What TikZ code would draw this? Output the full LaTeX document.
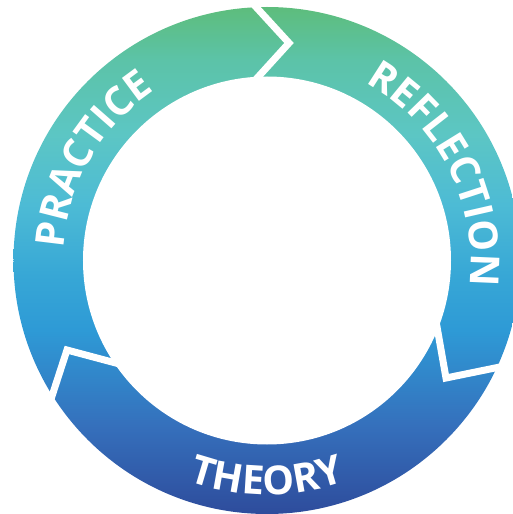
\documentclass[tikz,border=0pt]{standalone}
\usepackage{fontspec}
\usetikzlibrary{calc,decorations.text}
\newfontfamily\cyclefont{Open Sans}

\definecolor{cyc0}{HTML}{2E4C9C}
\definecolor{cyc1}{HTML}{3570BC}
\definecolor{cyc2}{HTML}{2E9AD6}
\definecolor{cyc3}{HTML}{37A7D6}
\definecolor{cyc4}{HTML}{4DBBD5}
\definecolor{cyc5}{HTML}{5CC6C4}
\definecolor{cyc6}{HTML}{5CC3A8}
\definecolor{cyc7}{HTML}{5DBD7C}

% blue at the bottom, green at the top
\pgfdeclareverticalshading{cycleshade}{100bp}{color(0bp)=(cyc0); color(25bp)=(cyc0);
  color(33.75bp)=(cyc1); color(43.15bp)=(cyc2); color(48.5bp)=(cyc3);
  color(55.5bp)=(cyc4); color(62.4bp)=(cyc5); color(69.75bp)=(cyc6);
  color(75bp)=(cyc7); color(100bp)=(cyc7)}

\newcommand{\labelfont}{\color{white}\cyclefont\bfseries\fontsize{40}{40}\selectfont}

\tikzset{
  gap/.style={draw=white, line width=7pt, line join=miter},
  ringlabel/.style={decorate, decoration={text along path, text align=center, text={|\labelfont|#1}}}
}

\begin{document}
\begin{tikzpicture}[x=1pt, y=1pt]
    \useasboundingbox (-267,-253.5) rectangle (246,260.5);
    % the ring
    \shade[shading=cycleshade] (0,0) circle[radius=253.5];
    \fill[white] (0,0) circle[radius=184];
    % arrow gaps between the three parts
    \coordinate (topin) at (-8,184.5);
    \coordinate (toptip) at (22,217.5);
    \coordinate (topout) at (-11,253.5);
    \coordinate (rightin) at (171,-72);
    \coordinate (righttip) at (179,-117.5);
    \coordinate (rightout) at (228,-107.5);
    \coordinate (leftin) at (-155,-101.5);
    \coordinate (lefttip) at (-200,-89.5);
    \coordinate (leftout) at (-214,-132.5);
    \draw[gap] ($(toptip)!1.3!(topin)$) -- (toptip) -- ($(toptip)!1.2!(topout)$);
    \draw[gap] ($(righttip)!1.3!(rightin)$) -- (righttip) -- ($(righttip)!1.2!(rightout)$);
    \draw[gap] ($(lefttip)!1.3!(leftin)$) -- (lefttip) -- ($(lefttip)!1.2!(leftout)$);
    % labels
    \path[ringlabel=PRACTICE] (190:203.5) arc[start angle=190, end angle=110, radius=203.5];
    \path[ringlabel=REFLECTION] (76:203.5) arc[start angle=76, end angle=-22, radius=203.5];
    \path[ringlabel=THEORY] (230:234.5) arc[start angle=230, end angle=310, radius=234.5];
\end{tikzpicture}
\end{document}
